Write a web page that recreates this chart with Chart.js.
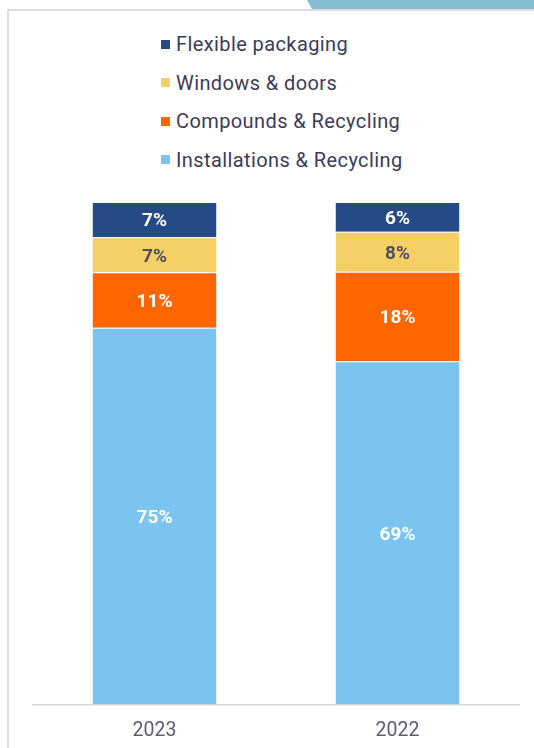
<!DOCTYPE html>
<html>
<head>
<meta charset="utf-8">
<script src="https://cdn.jsdelivr.net/npm/chart.js@4"></script>
<style>
    html, body {
        margin: 0;
        padding: 0;
        width: 534px;
        height: 748px;
        background: #ffffff;
        overflow: hidden;
        font-family: Roboto, "Noto Sans", sans-serif;
    }
    /* Teal tab in the top-right corner */
    .tab {
        position: absolute;
        left: 0;
        top: 0;
        width: 534px;
        height: 9px;
        background: #86bfcf;
        clip-path: polygon(307px 0, 534px 0, 534px 9px, 312px 9px);
    }
    /* Card outline, open to the right and bottom */
    .card {
        position: absolute;
        left: 7px;
        top: 9px;
        width: 560px;
        height: 760px;
        border-left: 2px solid #dcdcec;
        border-top: 2px solid #dcdcec;
        box-sizing: border-box;
    }
    #legend {
        position: absolute;
        left: 161px;
        top: 25px;
        margin: 0;
        padding: 0;
        list-style: none;
    }
    #legend li {
        display: flex;
        align-items: center;
        height: 38.5px;
        font-size: 20px;
        color: #3b3b5a;
        letter-spacing: 0.4px;
    }
    #legend .box {
        width: 9px;
        height: 9px;
        margin-right: 6px;
    }
    .chart-wrap {
        position: absolute;
        left: 0;
        top: 0;
        width: 534px;
        height: 750px;
    }
</style>
</head>
<body>
<div class="tab"></div>
<div class="card"></div>
<ul id="legend"></ul>
<div class="chart-wrap"><canvas id="shareChart"></canvas></div>

<script>
// Years and segment shares (%)
const years = ['2023', '2022'];
const installations = [75, 69];
const compounds = [11, 18];
const windowsDoors = [7, 8];
const flexible = [7, 6];

const seriesNames = ['Installations & Recycling', 'Compounds & Recycling', 'Windows & doors', 'Flexible packaging'];
const seriesColors = ['#7cc4f0', '#ff6600', '#f3cf66', '#264a86'];
const labelColors = ['#ffffff', '#ffffff', '#4f4f5c', '#ffffff'];

const seriesValues = [installations, compounds, windowsDoors, flexible];

// Each bar is scaled to its own total so both columns fill the full height
const totals = years.map((_, i) => seriesValues.reduce((sum, s) => sum + s[i], 0));

const datasets = seriesValues.map((values, k) => ({
    label: seriesNames[k],
    raw: values,
    data: values.map((v, i) => v / totals[i] * 100),
    backgroundColor: seriesColors[k],
    borderColor: 'rgba(255,255,255,0.25)',
    borderWidth: { top: 1, bottom: 0, left: 0, right: 0 },
    borderSkipped: false,
    categoryPercentage: 1,
    barPercentage: 0.51,
    labelColor: labelColors[k]
}));

// Percent labels drawn in the middle of each segment
const segmentLabels = {
    id: 'segmentLabels',
    afterDatasetsDraw(chart) {
        const ctx = chart.ctx;
        ctx.save();
        ctx.font = 'bold 19px Roboto, "Noto Sans", sans-serif';
        ctx.textAlign = 'center';
        ctx.textBaseline = 'middle';
        chart.data.datasets.forEach((ds, k) => {
            chart.getDatasetMeta(k).data.forEach((bar, i) => {
                const mid = (bar.y + bar.base) / 2 + 2;
                ctx.fillStyle = ds.labelColor;
                ctx.fillText(ds.raw[i] + '%', bar.x, mid);
            });
        });
        ctx.restore();
    }
};

const chart = new Chart(document.getElementById('shareChart'), {
    type: 'bar',
    data: {
        labels: years,
        datasets: datasets
    },
    options: {
        responsive: true,
        maintainAspectRatio: false,
        animation: false,
        layout: {
            padding: { left: 33, right: 15, top: 202, bottom: 0 }
        },
        plugins: {
            legend: { display: false },
            tooltip: { enabled: false }
        },
        scales: {
            x: {
                stacked: true,
                grid: { display: false },
                border: { color: '#d9d9df', width: 1.5 },
                ticks: {
                    color: '#5c5c7a',
                    padding: 7,
                    font: { family: 'Roboto, "Noto Sans", sans-serif', size: 19.5 }
                }
            },
            y: {
                stacked: true,
                display: false,
                min: 0,
                max: 100
            }
        }
    },
    plugins: [segmentLabels]
});

// Legend list, top series first
const legendEl = document.getElementById('legend');
datasets.slice().reverse().forEach(ds => {
    const li = document.createElement('li');
    const box = document.createElement('span');
    box.className = 'box';
    box.style.background = ds.backgroundColor;
    li.appendChild(box);
    li.appendChild(document.createTextNode(ds.label));
    legendEl.appendChild(li);
});
</script>
</body>
</html>
